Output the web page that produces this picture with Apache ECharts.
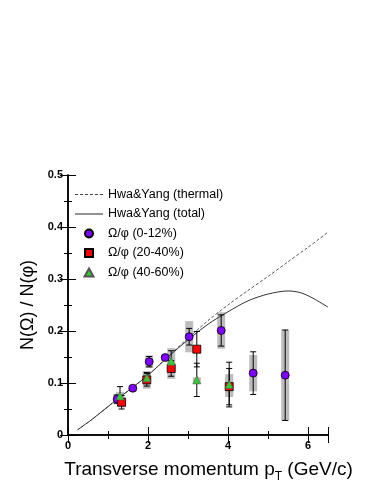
<!DOCTYPE html>
<html>
<head>
<meta charset="utf-8">
<script src="https://cdn.jsdelivr.net/npm/echarts@6/dist/echarts.min.js"></script>
<style>
  html, body { margin: 0; padding: 0; background: #fff; }
  #my_echart { width: 374px; height: 484px; }
</style>
</head>
<body>
<div id="my_echart"></div>
<script>
// 曲线 Hwa&Yang
var thermalX = [0.24, 0.6, 1.2, 2.0, 2.5, 3.0, 3.5, 4.0, 4.5, 5.0, 5.5, 6.0, 6.5];
var thermalY = [0.010, 0.030, 0.067, 0.115, 0.151, 0.186, 0.220, 0.250, 0.278, 0.305, 0.333, 0.361, 0.390];
var totalX = [0.24, 0.6, 1.2, 2.0, 2.5, 3.0, 3.5, 4.0, 4.5, 5.0, 5.5, 5.8, 6.1, 6.5];
var totalY = [0.010, 0.030, 0.067, 0.115, 0.150, 0.183, 0.213, 0.237, 0.258, 0.271, 0.277, 0.274, 0.264, 0.246];

// Omega/phi (0-12%)
var purpleX = [1.23, 1.62, 2.03, 2.43, 3.03, 3.83, 4.63, 5.43];
var purpleY = [0.069, 0.090, 0.141, 0.149, 0.189, 0.201, 0.119, 0.115];
var purpleStat = [0.008, 0.004, 0.010, 0.004, 0.016, 0.030, 0.041, 0.087];
var purpleSys = [0.010, 0.006, 0.012, 0.006, 0.030, 0.035, 0.035, 0.087];

// Omega/phi (20-40%)
var redX = [1.34, 1.97, 2.58, 3.22, 4.03];
var redY = [0.063, 0.106, 0.128, 0.165, 0.093];
var redStat = [0.013, 0.012, 0.015, 0.034, 0.035];
var redSys = [0.010, 0.017, 0.020, 0.006, 0.020];

// Omega/phi (40-60%)
var greenX = [1.30, 1.97, 2.58, 3.22, 4.03];
var greenY = [0.075, 0.110, 0.142, 0.106, 0.097];
var greenStat = [0.018, 0.010, 0.020, 0.032, 0.043];
var greenSys = [0.008, 0.010, 0.025, 0.005, 0.020];

var xTicks = [0, 2, 4, 6];

function zip(xs, ys, es) {
    return xs.map(function (x, i) { return es ? [x, ys[i], es[i]] : [x, ys[i]]; });
}

var sysData = zip(purpleX, purpleY, purpleSys)
    .concat(zip(redX, redY, redSys))
    .concat(zip(greenX, greenY, greenSys));
var statData = zip(purpleX, purpleY, purpleStat)
    .concat(zip(redX, redY, redStat))
    .concat(zip(greenX, greenY, greenStat));

//系统误差灰框
function sysBox(params, api) {
    var x = api.value(0), y = api.value(1), e = api.value(2);
    var top = api.coord([x, y + e]);
    var bot = api.coord([x, y - e]);
    return {
        type: 'rect',
        shape: { x: top[0] - 4, y: top[1], width: 8, height: bot[1] - top[1] },
        style: { fill: '#bdbdbd' }
    };
}

//统计误差棒
function statBar(params, api) {
    var x = api.value(0), y = api.value(1), e = api.value(2);
    var top = api.coord([x, y + e]);
    var bot = api.coord([x, y - e]);
    var st = { stroke: '#000', lineWidth: 1 };
    return {
        type: 'group',
        children: [
            { type: 'line', shape: { x1: top[0], y1: top[1], x2: bot[0], y2: bot[1] }, style: st },
            { type: 'line', shape: { x1: top[0] - 3, y1: top[1], x2: top[0] + 3, y2: top[1] }, style: st },
            { type: 'line', shape: { x1: bot[0] - 3, y1: bot[1], x2: bot[0] + 3, y2: bot[1] }, style: st }
        ]
    };
}

//图例图标
var dashIcon = 'path://M0,0h3v1h-3zM5,0h3v1h-3zM10,0h3v1h-3zM15,0h3v1h-3zM20,0h3v1h-3zM25,0h3v1h-3z';
var lineIcon = 'path://M0,0h28v1h-28z';
var squareIcon = 'path://M0,0h1v1h-1z';
var triIcon = 'path://M1,0L2,1.8L0,1.8Z';

var font = 'Liberation Sans, Arial, Helvetica, sans-serif';
var axisLine = { show: true, lineStyle: { color: '#000', width: 1.5 } };
var tick = { show: true, inside: true, length: 8, lineStyle: { color: '#000', width: 1 } };
var minorTick = { show: true, splitNumber: 2, length: 4, lineStyle: { color: '#000', width: 1 } };

var mychart = echarts.init(document.getElementById('my_echart'));

mychart.setOption({
    animation: false,
    textStyle: { fontFamily: font },
    grid: { left: 68, top: 175, right: 46, bottom: 49, containLabel: false, outerBoundsMode: 'none' },
    legend: {
        orient: 'vertical',
        left: 75,
        top: 188,
        padding: 0,
        itemWidth: 28,
        itemHeight: 8,
        itemGap: 6.5,
        symbolKeepAspect: true,
        textStyle: { fontSize: 12.5, color: '#000', fontFamily: font },
        data: [
            { name: 'Hwa&Yang (thermal)', icon: dashIcon },
            { name: 'Hwa&Yang (total)', icon: lineIcon },
            { name: 'Ω/φ (0-12%)', icon: 'circle' },
            { name: 'Ω/φ (20-40%)', icon: squareIcon },
            { name: 'Ω/φ (40-60%)', icon: triIcon }
        ]
    },
    xAxis: [{
        type: 'value',
        min: 0, max: 6.5, interval: 2,
        axisLine: axisLine, axisTick: tick, minorTick: minorTick,
        splitLine: { show: false },
        axisLabel: {
            fontSize: 11, fontWeight: 'bold', color: '#000', margin: 5,
            formatter: function (v) { return xTicks.indexOf(v) >= 0 ? String(v) : ''; }
        },
        name: '{a|Transverse momentum p}{s|T}{a| (GeV/c)}',
        nameLocation: 'middle',
        nameGap: 21,
        nameTextStyle: {
            padding: [0, 0, 0, 21],
            rich: {
                a: { fontSize: 19, color: '#000', fontFamily: font },
                s: { fontSize: 12, color: '#000', fontFamily: font, padding: [15, 0, 0, 0] }
            }
        }
    }, {
        type: 'value', position: 'top',
        min: 0, max: 6.5, interval: 2,
        axisLine: axisLine, axisTick: tick, minorTick: minorTick,
        splitLine: { show: false }, axisLabel: { show: false }
    }],
    yAxis: [{
        type: 'value',
        min: 0, max: 0.5, interval: 0.1,
        axisLine: axisLine, axisTick: tick, minorTick: minorTick,
        splitLine: { show: false },
        axisLabel: {
            fontSize: 11, fontWeight: 'bold', color: '#000', margin: 5,
            formatter: function (v) { return v === 0 ? '0' : v.toFixed(1); }
        },
        name: 'N(Ω) / N(φ)',
        nameLocation: 'middle',
        nameGap: 31,
        nameTextStyle: { fontSize: 18, color: '#000', fontFamily: font }
    }, {
        type: 'value', position: 'right',
        min: 0, max: 0.5, interval: 0.1,
        axisLine: axisLine, axisTick: tick, minorTick: minorTick,
        splitLine: { show: false }, axisLabel: { show: false }
    }],
    series: [
        {
            name: 'sys', type: 'custom', renderItem: sysBox,
            encode: { x: 0, y: 1 }, data: sysData, z: 1, silent: true
        },
        {
            name: 'Hwa&Yang (thermal)', type: 'line', smooth: 0.3,
            symbol: 'none', data: zip(thermalX, thermalY), z: 2,
            lineStyle: { color: '#555', width: 1, type: [3, 2] },
            itemStyle: { color: '#444' }
        },
        {
            name: 'Hwa&Yang (total)', type: 'line', smooth: 0.3,
            symbol: 'none', data: zip(totalX, totalY), z: 2,
            lineStyle: { color: '#333', width: 1 },
            itemStyle: { color: '#222' }
        },
        {
            name: 'stat', type: 'custom', renderItem: statBar,
            encode: { x: 0, y: 1 }, data: statData, z: 3, silent: true
        },
        {
            name: 'Ω/φ (0-12%)', type: 'scatter', symbol: 'circle', symbolSize: 8,
            data: zip(purpleX, purpleY), z: 4,
            itemStyle: { color: '#8000ff', borderColor: '#000', borderWidth: 0.8, opacity: 1 }
        },
        {
            name: 'Ω/φ (20-40%)', type: 'scatter', symbol: 'rect', symbolSize: 8,
            data: zip(redX, redY), z: 4,
            itemStyle: { color: '#ff0000', borderColor: '#000', borderWidth: 0.8, opacity: 1 }
        },
        {
            name: 'Ω/φ (40-60%)', type: 'scatter', symbol: 'triangle', symbolSize: 8,
            data: zip(greenX, greenY), z: 5,
            itemStyle: { color: '#33cc33', borderColor: '#555', borderWidth: 0.6, opacity: 1 }
        }
    ]
});
</script>
</body>
</html>
